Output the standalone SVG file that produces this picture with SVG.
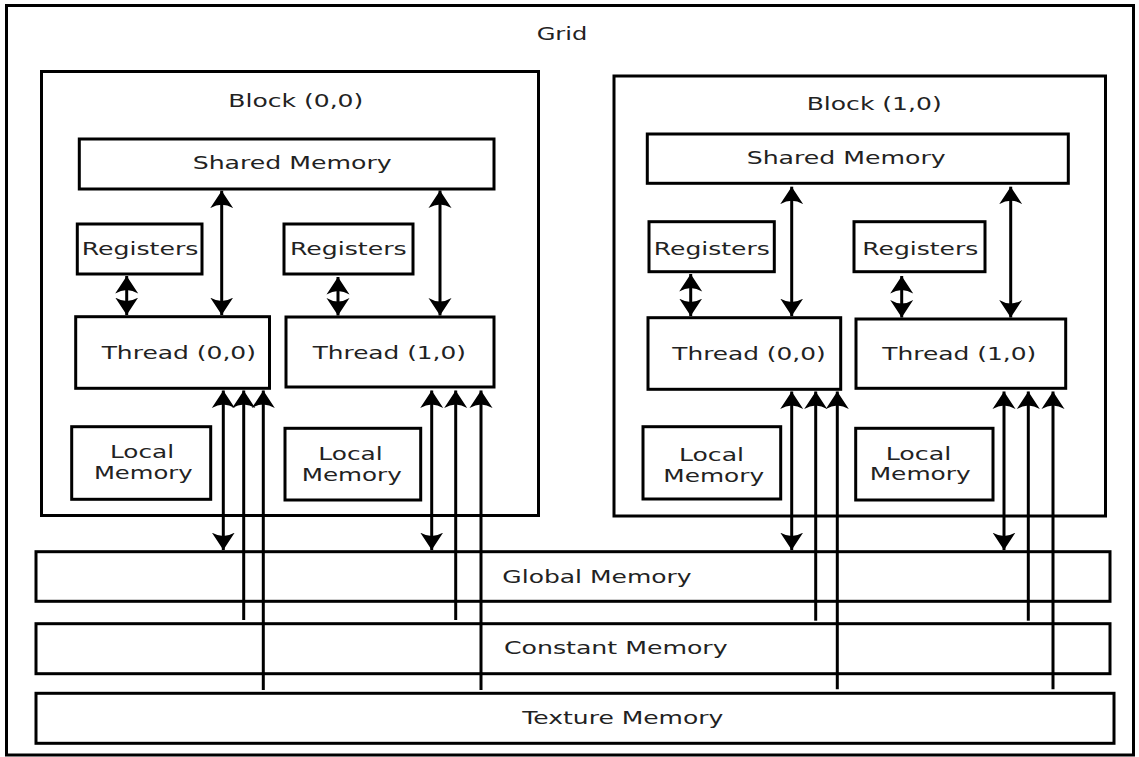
<svg xmlns="http://www.w3.org/2000/svg" width="1139" height="757" viewBox="0 0 1139 757">
  <style>
    .box { fill: #ffffff; stroke: #000000; stroke-width: 3; }
    .frame { fill: none; stroke: #000000; stroke-width: 3; }
    .lbl { font-family: "DejaVu Sans", "Liberation Sans", sans-serif; font-size: 17.5px; fill: #222222; text-anchor: middle; }
    .wire { fill: none; stroke: #000000; stroke-width: 3; }
    .both { marker-start: url(#head); marker-end: url(#head); }
    .up { marker-start: url(#head); }
  </style>
  <defs>
    <!-- solid arrowhead with a shallow notch at the back, tip at refX -->
    <marker id="head" viewBox="0 0 18 24" refX="17.5" refY="12" markerWidth="18" markerHeight="24" markerUnits="userSpaceOnUse" orient="auto-start-reverse">
      <path d="M17.5,12 L0,0.5 Q7,12 0,23.5 Z" fill="#000000"/>
    </marker>
  </defs>

  <rect x="0" y="0" width="1139" height="757" fill="#ffffff"/>

  <!-- outer grid -->
  <g id="grid">
    <rect class="frame" x="6.5" y="5.5" width="1127" height="749.5"/>
    <text class="lbl" x="562" y="40" textLength="50.7" lengthAdjust="spacingAndGlyphs">Grid</text>
  </g>

  <!-- block (0,0) -->
  <g id="block00">
    <rect class="box" x="41.5" y="71.5" width="497" height="444"/>
    <text class="lbl" x="295.8" y="107" textLength="135" lengthAdjust="spacingAndGlyphs">Block (0,0)</text>
  </g>
  <g id="shared00">
    <rect class="box" x="79.3" y="139" width="414.7" height="50"/>
    <text class="lbl" x="292.2" y="168.5" textLength="199" lengthAdjust="spacingAndGlyphs">Shared Memory</text>
  </g>
  <g id="regs00-t0">
    <rect class="box" x="77.3" y="224" width="124.7" height="50"/>
    <text class="lbl" x="140" y="255.3" textLength="116.7" lengthAdjust="spacingAndGlyphs">Registers</text>
  </g>
  <g id="regs00-t1">
    <rect class="box" x="284" y="224" width="129" height="50"/>
    <text class="lbl" x="348.3" y="255.3" textLength="116.7" lengthAdjust="spacingAndGlyphs">Registers</text>
  </g>
  <g id="thread00-t0">
    <rect class="box" x="75.7" y="316.7" width="193.8" height="71.6"/>
    <text class="lbl" x="178.8" y="358.5" textLength="154.3" lengthAdjust="spacingAndGlyphs">Thread (0,0)</text>
  </g>
  <g id="thread00-t1">
    <rect class="box" x="286" y="317" width="208" height="70"/>
    <text class="lbl" x="389.3" y="358.5" textLength="153.3" lengthAdjust="spacingAndGlyphs">Thread (1,0)</text>
  </g>
  <g id="local00-t0">
    <rect class="box" x="71.7" y="426.7" width="139" height="72.6"/>
    <text class="lbl" x="142" y="457.5" textLength="64" lengthAdjust="spacingAndGlyphs">Local</text>
    <text class="lbl" x="143.3" y="478.5" textLength="98.7" lengthAdjust="spacingAndGlyphs">Memory</text>
  </g>
  <g id="local00-t1">
    <rect class="box" x="285" y="428.3" width="135.7" height="71.7"/>
    <text class="lbl" x="350.5" y="460.2" textLength="64.3" lengthAdjust="spacingAndGlyphs">Local</text>
    <text class="lbl" x="351.7" y="481.2" textLength="100" lengthAdjust="spacingAndGlyphs">Memory</text>
  </g>

  <!-- block (1,0) -->
  <g id="block10">
    <rect class="box" x="614" y="76" width="491.5" height="440"/>
    <text class="lbl" x="874.2" y="109.5" textLength="135" lengthAdjust="spacingAndGlyphs">Block (1,0)</text>
  </g>
  <g id="shared10">
    <rect class="box" x="647.3" y="134" width="421" height="49.3"/>
    <text class="lbl" x="846.2" y="163.5" textLength="199" lengthAdjust="spacingAndGlyphs">Shared Memory</text>
  </g>
  <g id="regs10-t0">
    <rect class="box" x="649" y="221.7" width="125.3" height="50"/>
    <text class="lbl" x="711.8" y="255.3" textLength="116" lengthAdjust="spacingAndGlyphs">Registers</text>
  </g>
  <g id="regs10-t1">
    <rect class="box" x="854" y="221.7" width="131" height="50"/>
    <text class="lbl" x="920.3" y="255.3" textLength="116" lengthAdjust="spacingAndGlyphs">Registers</text>
  </g>
  <g id="thread10-t0">
    <rect class="box" x="648" y="317.7" width="192.7" height="71.6"/>
    <text class="lbl" x="749" y="360.2" textLength="153.3" lengthAdjust="spacingAndGlyphs">Thread (0,0)</text>
  </g>
  <g id="thread10-t1">
    <rect class="box" x="856" y="319" width="209.7" height="69.3"/>
    <text class="lbl" x="959.3" y="360.2" textLength="154" lengthAdjust="spacingAndGlyphs">Thread (1,0)</text>
  </g>
  <g id="local10-t0">
    <rect class="box" x="643" y="426.7" width="137.7" height="72.3"/>
    <text class="lbl" x="711.5" y="461.2" textLength="65" lengthAdjust="spacingAndGlyphs">Local</text>
    <text class="lbl" x="713.7" y="481.9" textLength="100.7" lengthAdjust="spacingAndGlyphs">Memory</text>
  </g>
  <g id="local10-t1">
    <rect class="box" x="855.7" y="428.3" width="137.3" height="71.7"/>
    <text class="lbl" x="918.5" y="460.2" textLength="65.6" lengthAdjust="spacingAndGlyphs">Local</text>
    <text class="lbl" x="920.2" y="480.2" textLength="101" lengthAdjust="spacingAndGlyphs">Memory</text>
  </g>

  <!-- device-wide memories -->
  <g id="global-memory">
    <rect class="box" x="36" y="551.7" width="1074" height="49.6"/>
    <text class="lbl" x="597" y="582.5" textLength="189.3" lengthAdjust="spacingAndGlyphs">Global Memory</text>
  </g>
  <g id="constant-memory">
    <rect class="box" x="36" y="623.7" width="1074" height="50"/>
    <text class="lbl" x="615.8" y="653.5" textLength="223.7" lengthAdjust="spacingAndGlyphs">Constant Memory</text>
  </g>
  <g id="texture-memory">
    <rect class="box" x="36" y="693.3" width="1078" height="50"/>
    <text class="lbl" x="622.8" y="723.5" textLength="201" lengthAdjust="spacingAndGlyphs">Texture Memory</text>
  </g>

  <!-- connectors -->
  <g id="connectors">
    <!-- shared memory <-> threads -->
    <line class="wire both" x1="221.7" y1="190.7" x2="221.7" y2="315"/>
    <line class="wire both" x1="440" y1="190.5" x2="440" y2="315.5"/>
    <line class="wire both" x1="791.7" y1="186.7" x2="791.7" y2="316"/>
    <line class="wire both" x1="1010.7" y1="186.7" x2="1010.7" y2="317.5"/>
    <!-- registers <-> threads -->
    <line class="wire both" x1="126.7" y1="276" x2="126.7" y2="315"/>
    <line class="wire both" x1="338" y1="277" x2="338" y2="315.5"/>
    <line class="wire both" x1="690.7" y1="274" x2="690.7" y2="316"/>
    <line class="wire both" x1="901.7" y1="276" x2="901.7" y2="317.5"/>
    <!-- threads <-> global (read/write) -->
    <line class="wire both" x1="223.3" y1="390.5" x2="223.3" y2="550"/>
    <line class="wire both" x1="431.7" y1="390.5" x2="431.7" y2="550"/>
    <line class="wire both" x1="791.7" y1="391.5" x2="791.7" y2="550"/>
    <line class="wire both" x1="1004" y1="391.5" x2="1004" y2="550"/>
    <!-- constant -> threads (read only) -->
    <line class="wire up" x1="243.7" y1="390.5" x2="243.7" y2="620"/>
    <line class="wire up" x1="455.7" y1="390.5" x2="455.7" y2="620"/>
    <line class="wire up" x1="815.7" y1="391.5" x2="815.7" y2="620.7"/>
    <line class="wire up" x1="1028.3" y1="391.5" x2="1028.3" y2="620.7"/>
    <!-- texture -> threads (read only) -->
    <line class="wire up" x1="263.3" y1="390.5" x2="263.3" y2="690"/>
    <line class="wire up" x1="481" y1="390.5" x2="481" y2="690"/>
    <line class="wire up" x1="837.3" y1="391.5" x2="837.3" y2="689.3"/>
    <line class="wire up" x1="1053" y1="391.5" x2="1053" y2="689.3"/>
  </g>
</svg>
